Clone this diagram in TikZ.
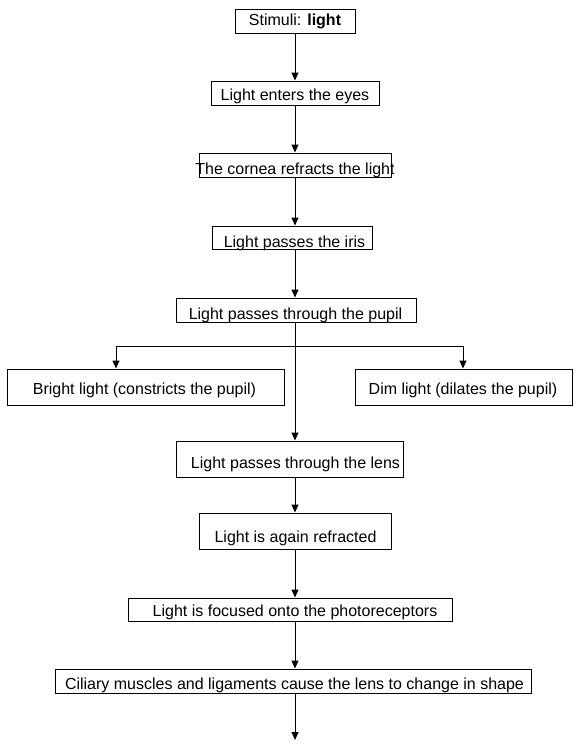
\documentclass[tikz,border=0pt]{standalone}
\usepackage{fontspec}
\setmainfont{Liberation Sans}
\usetikzlibrary{arrows.meta}
\begin{document}
\begin{tikzpicture}[x=1pt,y=-1pt,
  box/.style={draw, line width=1pt, inner sep=0pt},
  txt/.style={anchor=base, inner sep=0pt, font=\fontsize{16}{19}\selectfont},
  arr/.style={line width=1pt, -{Triangle[length=8pt,width=7pt]}}]
\useasboundingbox (0,0) rectangle (578,745);
% boxes
\node[box, minimum width=120, minimum height=24] (b1) at (295,21) {};
\node[box, minimum width=168, minimum height=24] (b2) at (295,93) {};
\node[box, minimum width=192, minimum height=24] (b3) at (295,165) {};
\node[box, minimum width=160, minimum height=23] (b4) at (292,237.5) {};
\node[box, minimum width=240, minimum height=24] (b5) at (296,310) {};
\node[box, minimum width=277, minimum height=36] (b6) at (145.5,387) {};
\node[box, minimum width=217, minimum height=36] (b7) at (463.5,387) {};
\node[box, minimum width=227, minimum height=36] (b8) at (289.5,459) {};
\node[box, minimum width=192, minimum height=36] (b9) at (295,531) {};
\node[box, minimum width=324, minimum height=23] (b10) at (290,609.5) {};
\node[box, minimum width=476, minimum height=24] (b11) at (293,681) {};
% texts
\node[txt] (t1) at (295,25) {Stimuli: \textbf{light}};
\node[txt] (t2) at (295,100) {Light enters the eyes};
\node[txt] (t3) at (295,174) {The cornea refracts the light};
\node[txt] (t4) at (294.5,247) {Light passes the iris};
\node[txt] (t5) at (295.5,319) {Light passes through the pupil};
\node[txt] (t6) at (144.5,394) {Bright light (constricts the pupil)};
\node[txt] (t7) at (463,394) {Dim light (dilates the pupil)};
\node[txt] (t8) at (295.5,468) {Light passes through the lens};
\node[txt] (t9) at (295.5,542) {Light is again refracted};
\node[txt] (t10) at (295,616) {Light is focused onto the photoreceptors};
\node[txt] (t11) at (294.5,689) {Ciliary muscles and ligaments cause the lens to change in shape};
% connectors
\coordinate (spine) at (295,0);
\coordinate (lb) at (116,346);
\coordinate (rb) at (463,346);
\coordinate (end) at (295,740);
\draw[arr] (b1.south -| spine) -- (b2.north -| spine);
\draw[arr] (b2.south -| spine) -- (b3.north -| spine);
\draw[arr] (b3.south -| spine) -- (b4.north -| spine);
\draw[arr] (b4.south -| spine) -- (b5.north -| spine);
\draw[arr] (b5.south -| spine) -- (b8.north -| spine);
\draw[line width=1pt] (lb) -- (rb);
\draw[arr] (lb) -- (lb |- b6.north);
\draw[arr] (rb) -- (rb |- b7.north);
\draw[arr] (b8.south -| spine) -- (b9.north -| spine);
\draw[arr] (b9.south -| spine) -- (b10.north -| spine);
\draw[arr] (b10.south -| spine) -- (b11.north -| spine);
\draw[arr] (b11.south -| spine) -- (end);
\end{tikzpicture}
\end{document}
